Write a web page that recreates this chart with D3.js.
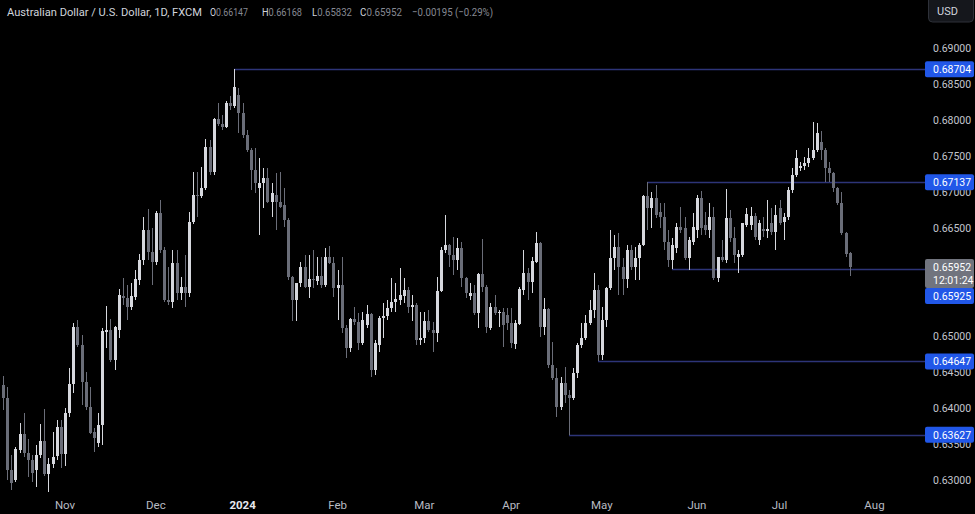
<!DOCTYPE html>
<html><head><meta charset="utf-8">
<script src="https://cdn.jsdelivr.net/npm/d3@7"></script>
<style>html,body{margin:0;padding:0;background:#000;overflow:hidden}text{font-family:Roboto,"Liberation Sans",sans-serif}</style>
</head><body>
<svg id="chart" width="975" height="514"></svg>
<script>
// ---------- data ----------
const title = "Australian Dollar / U.S. Dollar, 1D, FXCM";
const firstDay = "2023-10-11";       // first daily bar (weekdays only)
const open = [0.6432,0.6414,0.6314,0.6300,0.6342,0.6364,0.6337,0.6328,0.6314,0.6335,0.6354,0.6308,0.6322,0.6333,0.6374,0.6336,0.6393,0.6433,0.6512,0.6488,
0.6436,0.6401,0.6367,0.6352,0.6376,0.6506,0.6508,0.6467,0.6508,0.6556,0.6553,0.6540,0.6554,0.6578,0.6606,0.6647,0.6617,0.6603,0.6671,0.6619,
0.6550,0.6547,0.6601,0.6560,0.6568,0.6560,0.6658,0.6696,0.6694,0.6706,0.6763,0.6728,0.6801,0.6794,0.6790,0.6824,0.6819,0.6835,0.6810,0.6779,
0.6758,0.6731,0.6706,0.6713,0.6719,0.6686,0.6696,0.6686,0.6682,0.6661,0.6582,0.6550,0.6574,0.6596,0.6568,0.6579,0.6576,0.6583,0.6571,0.6610,
0.6601,0.6567,0.6571,0.6511,0.6483,0.6524,0.6519,0.6490,0.6515,0.6531,0.6453,0.6488,0.6525,0.6528,0.6539,0.6547,0.6550,0.6556,0.6564,0.6540,
0.6543,0.6494,0.6497,0.6521,0.6508,0.6504,0.6563,0.6619,0.6626,0.6613,0.6606,0.6622,0.6581,0.6556,0.6560,0.6532,0.6586,0.6568,0.6511,0.6540,
0.6532,0.6533,0.6529,0.6518,0.6489,0.6517,0.6564,0.6588,0.6575,0.6603,0.6629,0.6513,0.6538,0.6460,0.6442,0.6401,0.6435,0.6418,0.6414,0.6449,
0.6488,0.6497,0.6518,0.6536,0.6564,0.6474,0.6522,0.6567,0.6608,0.6624,0.6596,0.6579,0.6619,0.6596,0.6608,0.6626,0.6694,0.6678,0.6692,0.6672,
0.6665,0.6631,0.6606,0.6622,0.6651,0.6650,0.6608,0.6631,0.6647,0.6692,0.6654,0.6647,0.6665,0.6581,0.6610,0.6606,0.6664,0.6636,0.6610,0.6613,
0.6654,0.6654,0.6667,0.6633,0.6649,0.6646,0.6657,0.6644,0.6678,0.6658,0.6665,0.6703,0.6724,0.6733,0.6736,0.6740,0.6747,0.6758,0.6770,0.6758,
0.6733,0.6726,0.6706,0.6685,0.6643,0.66147];
const high = [0.6444,0.6429,0.6335,0.6346,0.6379,0.6393,0.6357,0.6335,0.6349,0.6378,0.6399,0.6331,0.6367,0.6383,0.6383,0.6400,0.6456,0.6518,0.6522,0.6501,
0.6450,0.6429,0.6372,0.6393,0.6511,0.6542,0.6524,0.6514,0.6565,0.6581,0.6571,0.6574,0.6592,0.6614,0.6665,0.6676,0.6650,0.6674,0.6689,0.6624,
0.6596,0.6619,0.6619,0.6582,0.6613,0.6672,0.6728,0.6728,0.6735,0.6774,0.6772,0.6803,0.6824,0.6807,0.6826,0.6833,0.68704,0.6845,0.6824,0.6786,
0.6761,0.6761,0.6747,0.6733,0.6733,0.6713,0.6726,0.6728,0.6706,0.6664,0.6584,0.6574,0.6603,0.6613,0.6613,0.6619,0.6610,0.6610,0.6622,0.6625,
0.6610,0.6592,0.6610,0.6515,0.6525,0.6540,0.6532,0.6533,0.6543,0.6532,0.6494,0.6528,0.6546,0.6550,0.6581,0.6574,0.6594,0.6581,0.6568,0.6557,
0.6546,0.6533,0.6533,0.6536,0.6519,0.6582,0.6624,0.6668,0.6628,0.6638,0.6636,0.6631,0.6582,0.6574,0.6571,0.6588,0.6635,0.6571,0.6546,0.6557,
0.6536,0.6539,0.6539,0.6539,0.6522,0.6568,0.6619,0.6594,0.6610,0.6644,0.6631,0.6553,0.6539,0.6492,0.6456,0.6443,0.6457,0.6425,0.6456,0.6490,
0.6518,0.6529,0.6550,0.6588,0.6571,0.6540,0.6568,0.6647,0.6640,0.6643,0.6608,0.6626,0.6626,0.6624,0.6629,0.6696,0.67137,0.6700,0.6710,0.6685,
0.6685,0.6647,0.6636,0.6657,0.6679,0.6665,0.6638,0.6671,0.6696,0.6701,0.6672,0.6685,0.6679,0.6610,0.6633,0.6704,0.6675,0.6651,0.6619,0.6657,
0.6678,0.6679,0.6671,0.6661,0.6665,0.6689,0.6678,0.6682,0.6689,0.6671,0.6707,0.6733,0.6758,0.6742,0.6749,0.6761,0.6797,0.6796,0.6785,0.6761,
0.6742,0.6728,0.6707,0.6700,0.6645,0.66168];
const low = [0.6397,0.6300,0.6286,0.6297,0.6337,0.6332,0.6304,0.6297,0.6290,0.6331,0.6306,0.6283,0.6317,0.6328,0.6317,0.6319,0.6388,0.6421,0.6485,0.6404,
0.6397,0.6364,0.6339,0.6346,0.6349,0.6483,0.6464,0.6453,0.6497,0.6543,0.6522,0.6536,0.6550,0.6571,0.6599,0.6606,0.6571,0.6599,0.6615,0.6547,
0.6543,0.6539,0.6550,0.6550,0.6540,0.6554,0.6656,0.6665,0.6692,0.6703,0.6724,0.6724,0.6792,0.6786,0.6789,0.6814,0.6817,0.6782,0.6775,0.6756,
0.6703,0.6699,0.6640,0.6678,0.6685,0.6665,0.6647,0.6678,0.6651,0.6578,0.6521,0.6521,0.6568,0.6567,0.6553,0.6567,0.6571,0.6567,0.6568,0.6600,
0.6554,0.6522,0.6504,0.6469,0.6478,0.6515,0.6481,0.6488,0.6511,0.6443,0.6446,0.6478,0.6497,0.6522,0.6533,0.6533,0.6543,0.6546,0.6532,0.6521,
0.6488,0.6488,0.6490,0.6506,0.6478,0.6492,0.6561,0.6615,0.6596,0.6585,0.6592,0.6568,0.6553,0.6550,0.6529,0.6511,0.6561,0.6504,0.6508,0.6529,
0.6513,0.6485,0.6508,0.6483,0.6482,0.6515,0.6557,0.6550,0.6560,0.6601,0.6499,0.6501,0.6456,0.6439,0.6388,0.6397,0.6407,0.63627,0.6411,0.6442,
0.6483,0.6494,0.6515,0.6525,0.64647,0.6467,0.6513,0.6564,0.6592,0.6557,0.6557,0.6567,0.6592,0.6578,0.6578,0.6625,0.6647,0.6650,0.6664,0.6650,
0.6619,0.6596,0.65925,0.6615,0.6643,0.6606,0.6592,0.6626,0.6636,0.6640,0.6640,0.6636,0.6578,0.6575,0.6603,0.6601,0.6631,0.6601,0.6588,0.6610,
0.6651,0.6647,0.6633,0.6626,0.6638,0.6636,0.6640,0.6619,0.6654,0.6633,0.6661,0.6699,0.6721,0.6729,0.6731,0.6735,0.6744,0.6756,0.6744,0.6714,
0.6714,0.6700,0.6682,0.6640,0.6610,0.65832];
const close = [0.6414,0.6314,0.6296,0.6343,0.6364,0.6337,0.6328,0.6310,0.6335,0.6354,0.6308,0.6322,0.6332,0.6374,0.6336,0.6393,0.6433,0.6513,0.6488,0.6436,
0.6401,0.6365,0.6358,0.6376,0.6507,0.6508,0.6467,0.6513,0.6557,0.6553,0.6540,0.6556,0.6579,0.6606,0.6647,0.6617,0.6603,0.6671,0.6619,0.6550,
0.6547,0.6601,0.6560,0.6568,0.6560,0.6658,0.6696,0.6694,0.6706,0.6763,0.6728,0.6801,0.6794,0.6790,0.6824,0.6819,0.6846,0.6810,0.6779,0.6758,
0.6731,0.6713,0.6713,0.6719,0.6686,0.6699,0.6686,0.6679,0.6661,0.6582,0.6550,0.6574,0.6596,0.6568,0.6579,0.6578,0.6583,0.6571,0.6610,0.6601,
0.6567,0.6571,0.6511,0.6483,0.6524,0.6519,0.6490,0.6522,0.6531,0.6453,0.6490,0.6525,0.6528,0.6539,0.6547,0.6551,0.6557,0.6564,0.6540,0.6543,
0.6494,0.6497,0.6521,0.6508,0.6504,0.6563,0.6619,0.6626,0.6613,0.6606,0.6622,0.6581,0.6560,0.6560,0.6532,0.6586,0.6568,0.6513,0.6540,0.6532,
0.6533,0.6515,0.6518,0.6490,0.6518,0.6565,0.6588,0.6575,0.6604,0.6629,0.6513,0.6538,0.6460,0.6442,0.6401,0.6435,0.6418,0.6414,0.6449,0.6488,
0.6497,0.6518,0.6536,0.6564,0.6474,0.6522,0.6567,0.6608,0.6624,0.6596,0.6579,0.6619,0.6596,0.6608,0.6626,0.6694,0.6678,0.6692,0.6668,0.6665,
0.6631,0.6606,0.6626,0.6651,0.6647,0.6608,0.6633,0.6651,0.6692,0.6650,0.6647,0.6665,0.6581,0.6610,0.6606,0.6664,0.6636,0.6613,0.6614,0.6657,
0.6669,0.6667,0.6638,0.6657,0.6646,0.6649,0.6644,0.6668,0.6657,0.6665,0.6703,0.6724,0.6747,0.6736,0.6740,0.6747,0.6758,0.6782,0.6758,0.6733,
0.6726,0.6706,0.6685,0.6643,0.6614,0.65952];
// horizontal levels and the bar index they start from
const levelValues = [0.68704, 0.67137, 0.65925, 0.64647, 0.63627];
const levelFromBar = [56, 156, 162, 144, 137];
const priceTicks = [0.630,0.635,0.640,0.645,0.650,0.655,0.665,0.670,0.675,0.680,0.685,0.690];
const monthNames = ["Jan","Feb","Mar","Apr","May","Jun","Jul","Aug","Sep","Oct","Nov","Dec"];
const lastPrice = 0.65952, countdown = "12:01:24";
const ohlcLabels = ["O","H","L","C"];
const ohlcValues = ["0.66147","0.66168","0.65832","0.65952"];
const changeText = "\u22120.00195 (\u22120.29%)";
const currency = "USD";

// ---------- calendar (weekday bars, extended to show the Aug label) ----------
const dates = [];
{ let d = new Date(firstDay + "T00:00:00Z");
  while (dates.length < 212) { const wd = d.getUTCDay(); if (wd > 0 && wd < 6) dates.push(new Date(d)); d = new Date(d.getTime() + 864e5); } }
const bars = open.map((o, i) => ({date: dates[i], o, h: high[i], l: low[i], c: close[i]}));

// ---------- scales ----------
const W = 975, H = 514;
const svg = d3.select("#chart");
svg.append("rect").attr("width", W).attr("height", H).attr("fill", "#000");
const x = d3.scaleBand().domain(dates.map(d => +d)).range([1, 1 + dates.length * 4.13]).padding(0);
const cx = d => x(+d) + x.bandwidth() / 2;
const y = d3.scaleLinear().domain([0.63, 0.69]).range([480, 48]);

const upCol = "#d6d8de", dnCol = "#6a6d78";

// ---------- levels ----------
const levelCol = "#2d3478";
svg.append("g").selectAll("line").data(levelValues).join("line")
  .attr("x1", (v, i) => Math.round(cx(dates[levelFromBar[i]])))
  .attr("x2", 925)
  .attr("y1", v => Math.round(y(v)) + 0.5).attr("y2", v => Math.round(y(v)) + 0.5)
  .attr("stroke", levelCol).attr("stroke-width", 1.3);

// ---------- candles ----------
const g = svg.append("g").attr("shape-rendering", "crispEdges");
const cg = g.selectAll("g").data(bars).join("g")
  .attr("fill", d => d.c >= d.o ? upCol : dnCol);
cg.append("rect")
  .attr("x", d => Math.round(cx(d.date)) - 0.5).attr("width", 1)
  .attr("y", d => y(d.h)).attr("height", d => Math.max(1, y(d.l) - y(d.h)));
cg.append("rect")
  .attr("x", d => Math.round(cx(d.date)) - 1.5).attr("width", 3)
  .attr("y", d => y(Math.max(d.o, d.c))).attr("height", d => Math.max(1, Math.abs(y(d.o) - y(d.c))));

// ---------- right price axis ----------
const axisG = svg.append("g").attr("transform", "translate(927,0)")
  .call(d3.axisRight(y).tickValues(priceTicks).tickFormat(d3.format(".5f")).tickSize(0).tickPadding(6));
axisG.select(".domain").remove();
axisG.selectAll("text").attr("fill", "#c3c6ce").attr("font-size", 10.5).attr("font-family", "Roboto, sans-serif");

// ---------- time axis ----------
const monthStarts = [];
dates.forEach((d, i) => { if (i > 0 && d.getUTCMonth() !== dates[i-1].getUTCMonth()) monthStarts.push(d); });
svg.append("g").selectAll("text").data(monthStarts).join("text")
  .attr("x", d => cx(d)).attr("y", 509).attr("text-anchor", "middle")
  .attr("font-size", 11.5)
  .attr("font-weight", d => d.getUTCMonth() === 0 ? 700 : 400)
  .attr("fill", d => d.getUTCMonth() === 0 ? "#e6e8ee" : "#b8bbc3")
  .text(d => d.getUTCMonth() === 0 ? String(d.getUTCFullYear()) : monthNames[d.getUTCMonth()]);

// ---------- price labels ----------
const lastTop = Math.round(y(lastPrice)) - 8;
const lastBottom = lastTop + 29;
const lab = svg.append("g");
levelValues.forEach(v => {
  let cy = y(v);
  if (cy > lastTop - 8 && cy < lastBottom + 8) cy = lastBottom + 8;
  lab.append("rect").attr("x", 925).attr("y", cy - 8).attr("width", 49).attr("height", 16).attr("rx", 2).attr("fill", "#2157e8");
  lab.append("text").attr("x", 933).attr("y", cy).attr("dy", "0.35em").attr("fill", "#fff").attr("font-size", 10.5).text(d3.format(".5f")(v));
});
lab.append("rect").attr("x", 925).attr("y", lastTop).attr("width", 49).attr("height", 29).attr("rx", 2).attr("fill", "#71747e");
lab.append("text").attr("x", 933).attr("y", lastTop + 8).attr("dy", "0.35em").attr("fill", "#fff").attr("font-size", 10.5).text(d3.format(".5f")(lastPrice));
lab.append("text").attr("x", 933).attr("y", lastTop + 21).attr("dy", "0.35em").attr("fill", "#fff").attr("font-size", 10.5).text(countdown);

// ---------- currency box ----------
svg.append("rect").attr("x", 928.5).attr("y", -4).attr("width", 45).attr("height", 26).attr("rx", 4)
  .attr("fill", "#15171c").attr("stroke", "#2e3139");
svg.append("text").attr("x", 937).attr("y", 15).attr("fill", "#d1d4dc").attr("font-size", 11).text(currency);

// ---------- header ----------
const hd = svg.append("g").attr("font-size", 11.5);
hd.append("text").attr("x", 7).attr("y", 16).attr("fill", "#d1d4dc").attr("textLength", 195).attr("lengthAdjust", "spacingAndGlyphs").text(title);
const ohlcX = [210, 262, 312, 360];
const ohlcW = [38, 40, 40, 42];
ohlcLabels.forEach((t, i) => {
  const tx = hd.append("text").attr("x", ohlcX[i]).attr("y", 16)
    .attr("textLength", ohlcW[i]).attr("lengthAdjust", "spacingAndGlyphs");
  tx.append("tspan").attr("fill", "#d1d4dc").text(t);
  tx.append("tspan").attr("fill", "#868993").text(ohlcValues[i]);
});
hd.append("text").attr("x", 412).attr("y", 16).attr("fill", "#868993")
  .attr("textLength", 81).attr("lengthAdjust", "spacingAndGlyphs").text(changeText);
</script>
</body></html>
